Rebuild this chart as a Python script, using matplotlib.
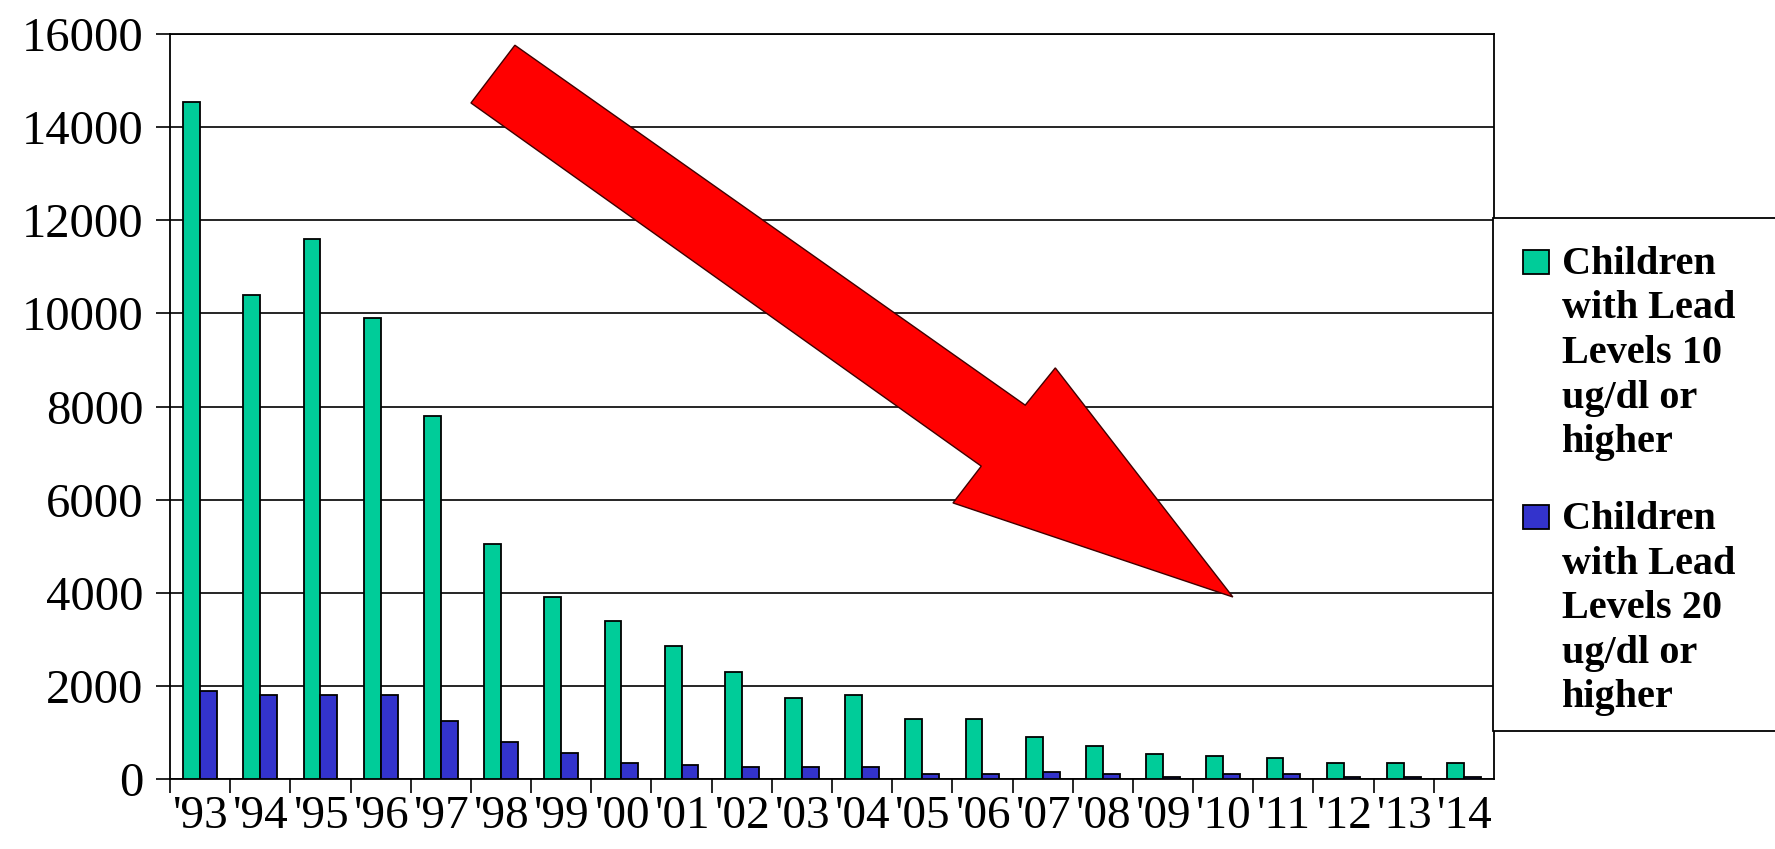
import matplotlib.pyplot as plt
from matplotlib.patches import Polygon, Rectangle
import numpy as np


years = ["'93", "'94", "'95", "'96", "'97", "'98", "'99", "'00", "'01", "'02", "'03",
         "'04", "'05", "'06", "'07", "'08", "'09", "'10", "'11", "'12", "'13", "'14"]

# children with lead levels >= 10 ug/dl
lead_10 = [14550, 10400, 11600, 9900, 7800, 5050, 3900, 3400, 2850, 2300, 1750,
           1800, 1300, 1300, 900, 700, 540, 500, 450, 350, 350, 350]
# children with lead levels >= 20 ug/dl
lead_20 = [1900, 1800, 1800, 1800, 1250, 800, 550, 350, 300, 250, 250,
           250, 100, 100, 150, 100, 50, 100, 100, 50, 50, 50]

labels = [["Children", "with Lead", "Levels 10", "ug/dl or", "higher"],
          ["Children", "with Lead", "Levels 20", "ug/dl or", "higher"]]

# red trend arrow outline, in (category, value) units
arrow_x = [5.23, 4.50, 12.98, 12.51, 17.16, 14.21, 13.71]
arrow_y = [15760, 14520, 6720, 5930, 3910, 8830, 8030]

green = "#00CC99"
blue = "#3333CC"
serif = ["Liberation Serif", "DejaVu Serif"]

fig = plt.figure(figsize=(17.75, 8.49), dpi=100)
ax = fig.add_axes([0.0958, 0.0824, 0.7459, 0.8775])

x = np.arange(len(years))
w = 0.28
ax.bar(x - w / 2, lead_10, width=w, color=green, edgecolor="black", linewidth=1.3, zorder=3)
ax.bar(x + w / 2, lead_20, width=w, color=blue, edgecolor="black", linewidth=1.3, zorder=3)

ax.add_patch(Polygon(np.column_stack([arrow_x, arrow_y]), closed=True,
                     facecolor="#FF0000", edgecolor="#400000", linewidth=1.0, zorder=4))

ax.set_xlim(-0.5, len(years) - 0.5)
ax.set_ylim(0, 16000)
ax.set_yticks(np.arange(0, 16001, 2000))
ax.yaxis.grid(True, color="black", linewidth=1.2, zorder=1)
ax.set_axisbelow(True)

ax.set_xticks(x)
ax.set_xticklabels(years, family=serif, fontsize=34)
ax.set_xticks(np.arange(-0.5, len(years) - 1, 1.0), minor=True)
ax.tick_params(axis="x", which="major", length=0, pad=12)
ax.tick_params(axis="x", which="minor", length=10, width=1.2, direction="out")
ax.tick_params(axis="y", length=10, width=1.2, direction="out", pad=9, labelsize=35)
for t in ax.get_yticklabels():
    t.set_family(serif)

for s in ax.spines.values():
    s.set_linewidth(1.3)
    s.set_color("black")

# legend box, runs off the right edge like the original
fig.add_artist(Rectangle((1493 / 1775, 1 - 731 / 849), 0.3, (731 - 218) / 849,
                         transform=fig.transFigure, facecolor="white",
                         edgecolor="black", linewidth=1.3, zorder=5))
for i, (lines, col) in enumerate(zip(labels, [green, blue])):
    y0 = 274 + i * 255
    fig.add_artist(Rectangle((1523 / 1775, 1 - y0 / 849), 26 / 1775, 24 / 849,
                             transform=fig.transFigure, facecolor=col,
                             edgecolor="black", linewidth=1.3, zorder=6))
    for k, line in enumerate(lines):
        fig.text(1562 / 1775, 1 - (y0 + k * 44.5) / 849, line, family=serif,
                 fontsize=29, fontweight="bold", va="baseline", ha="left", zorder=6)

plt.savefig("out.png", dpi=100)
plt.close()
